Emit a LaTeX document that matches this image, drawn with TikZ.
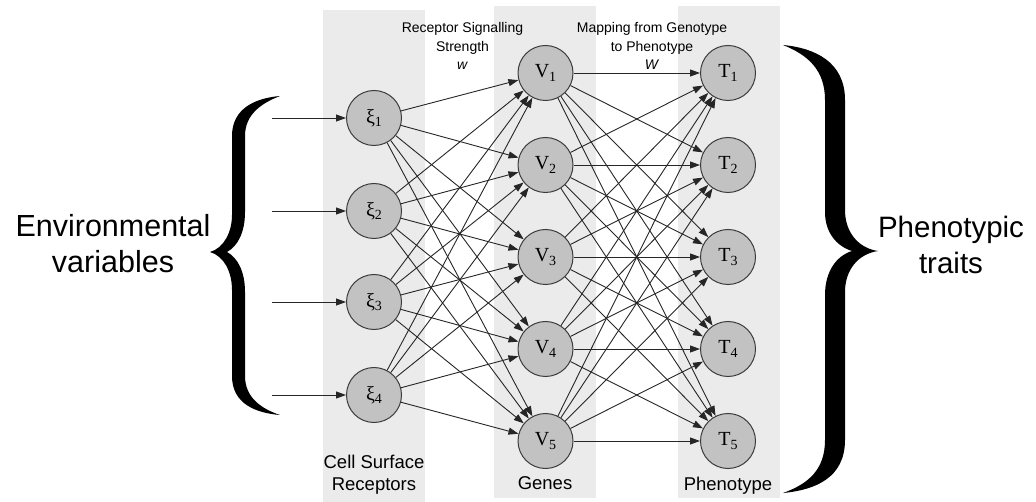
\documentclass[tikz,border=0pt]{standalone}
\usepackage{fontspec}
\setmainfont{Liberation Sans}
\newfontfamily\nodeserif{Liberation Serif}
\usetikzlibrary{arrows.meta}
\definecolor{colbg}{HTML}{EBEBEB}
\definecolor{nodefill}{HTML}{C2C2C2}
\definecolor{nodeline}{HTML}{3C3C3C}
\newcommand\nodelab[2]{#1\raisebox{-0.35ex}{\fontsize{14}{14}\selectfont #2}}
\begin{document}
\begin{tikzpicture}[x=1pt,y=-1pt,
  neuron/.style={circle, draw=nodeline, line width=1pt, fill=nodefill,
    minimum size=55pt, inner sep=0pt, font=\nodeserif\fontsize{20}{20}\selectfont},
  edge/.style={draw=black!85, line width=0.9pt, -{Triangle[length=10pt,width=7pt]}},
  colbox/.style={fill=colbg, draw=none},
  toplab/.style={align=center, anchor=north, inner sep=0pt,
    font=\fontsize{14}{18.5}\selectfont},
  botlab/.style={align=center, anchor=north, inner sep=0pt,
    font=\fontsize{18.5}{22}\selectfont},
  biglab/.style={align=center, anchor=north, inner sep=0pt},
  bracefill/.style={fill=black, draw=none}
]
\useasboundingbox (0,0) rectangle (1036,502);

% column backgrounds
\fill[colbox] (323,10) rectangle (425,502);
\fill[colbox] (494,6) rectangle (596,498);
\fill[colbox] (678,6) rectangle (780,498);

% nodes
\foreach \i/\y in {1/118,2/211,3/302,4/395}{
  \node[neuron] (x\i) at (374,\y) {\nodelab{ξ}{\i}};
  \coordinate (in\i) at (272,\y);
}
\foreach \i/\y in {1/73,2/165,3/257,4/349,5/441}{
  \node[neuron] (v\i) at (545.5,\y) {\nodelab{V}{\i}};
  \node[neuron] (t\i) at (728,\y) {\nodelab{T}{\i}};
}

% edges
\foreach \i in {1,...,4}{
  \draw[edge] (in\i) -- (x\i);
  \foreach \j in {1,...,5}{
    \draw[edge] (x\i) -- (v\j);
  }
}
\foreach \i in {1,...,5}{
  \foreach \j in {1,...,5}{
    \draw[edge] (v\i) -- (t\j);
  }
}

% labels
\node[toplab] (lw) at (462.5,22.5) {Receptor Signalling\\Strength\\\textit{w}};
\node[toplab] (lW) at (652,22.5) {Mapping from Genotype\\to Phenotype\\\textit{W}};
\node[botlab] (lcell) at (374,454.5) {Cell Surface\\Receptors};
\node[botlab] (lgenes) at (545,476.5) {Genes};
\node[botlab] (lphen) at (728,476.5) {Phenotype};
\node[biglab, font=\fontsize{30.5}{36}\selectfont] (lenv) at (113,214.5) {Environmental\\variables};
\node[biglab, font=\fontsize{29.5}{36}\selectfont] (ltraits) at (951,215.5) {Phenotypic\\traits};

% left brace
\fill[bracefill] (280,96) .. controls (256,98) and (232,108) .. (232,136)
  -- (232,215) .. controls (232,232) and (224,248) .. (210,252)
  .. controls (224,256) and (232,272) .. (232,290)
  -- (232,376) .. controls (232,404) and (256,413) .. (280,415)
  .. controls (262,409) and (245,398) .. (245,376)
  -- (245,292) .. controls (245,272) and (238,258) .. (227,252)
  .. controls (238,246) and (245,232) .. (245,212)
  -- (245,136) .. controls (245,114) and (262,103) .. (280,96) -- cycle;

% right brace
\fill[bracefill] (783,45) .. controls (815,48) and (845,62) .. (845,100)
  -- (845,210) .. controls (845,232) and (858,248) .. (878,251)
  .. controls (858,254) and (845,270) .. (845,292)
  -- (845,440) .. controls (845,478) and (815,490) .. (783,493)
  .. controls (808,484) and (825,470) .. (825,440)
  -- (825,295) .. controls (825,272) and (836,256) .. (852,251)
  .. controls (836,246) and (825,232) .. (825,212)
  -- (825,100) .. controls (825,70) and (808,55) .. (783,45) -- cycle;
\end{tikzpicture}
\end{document}
